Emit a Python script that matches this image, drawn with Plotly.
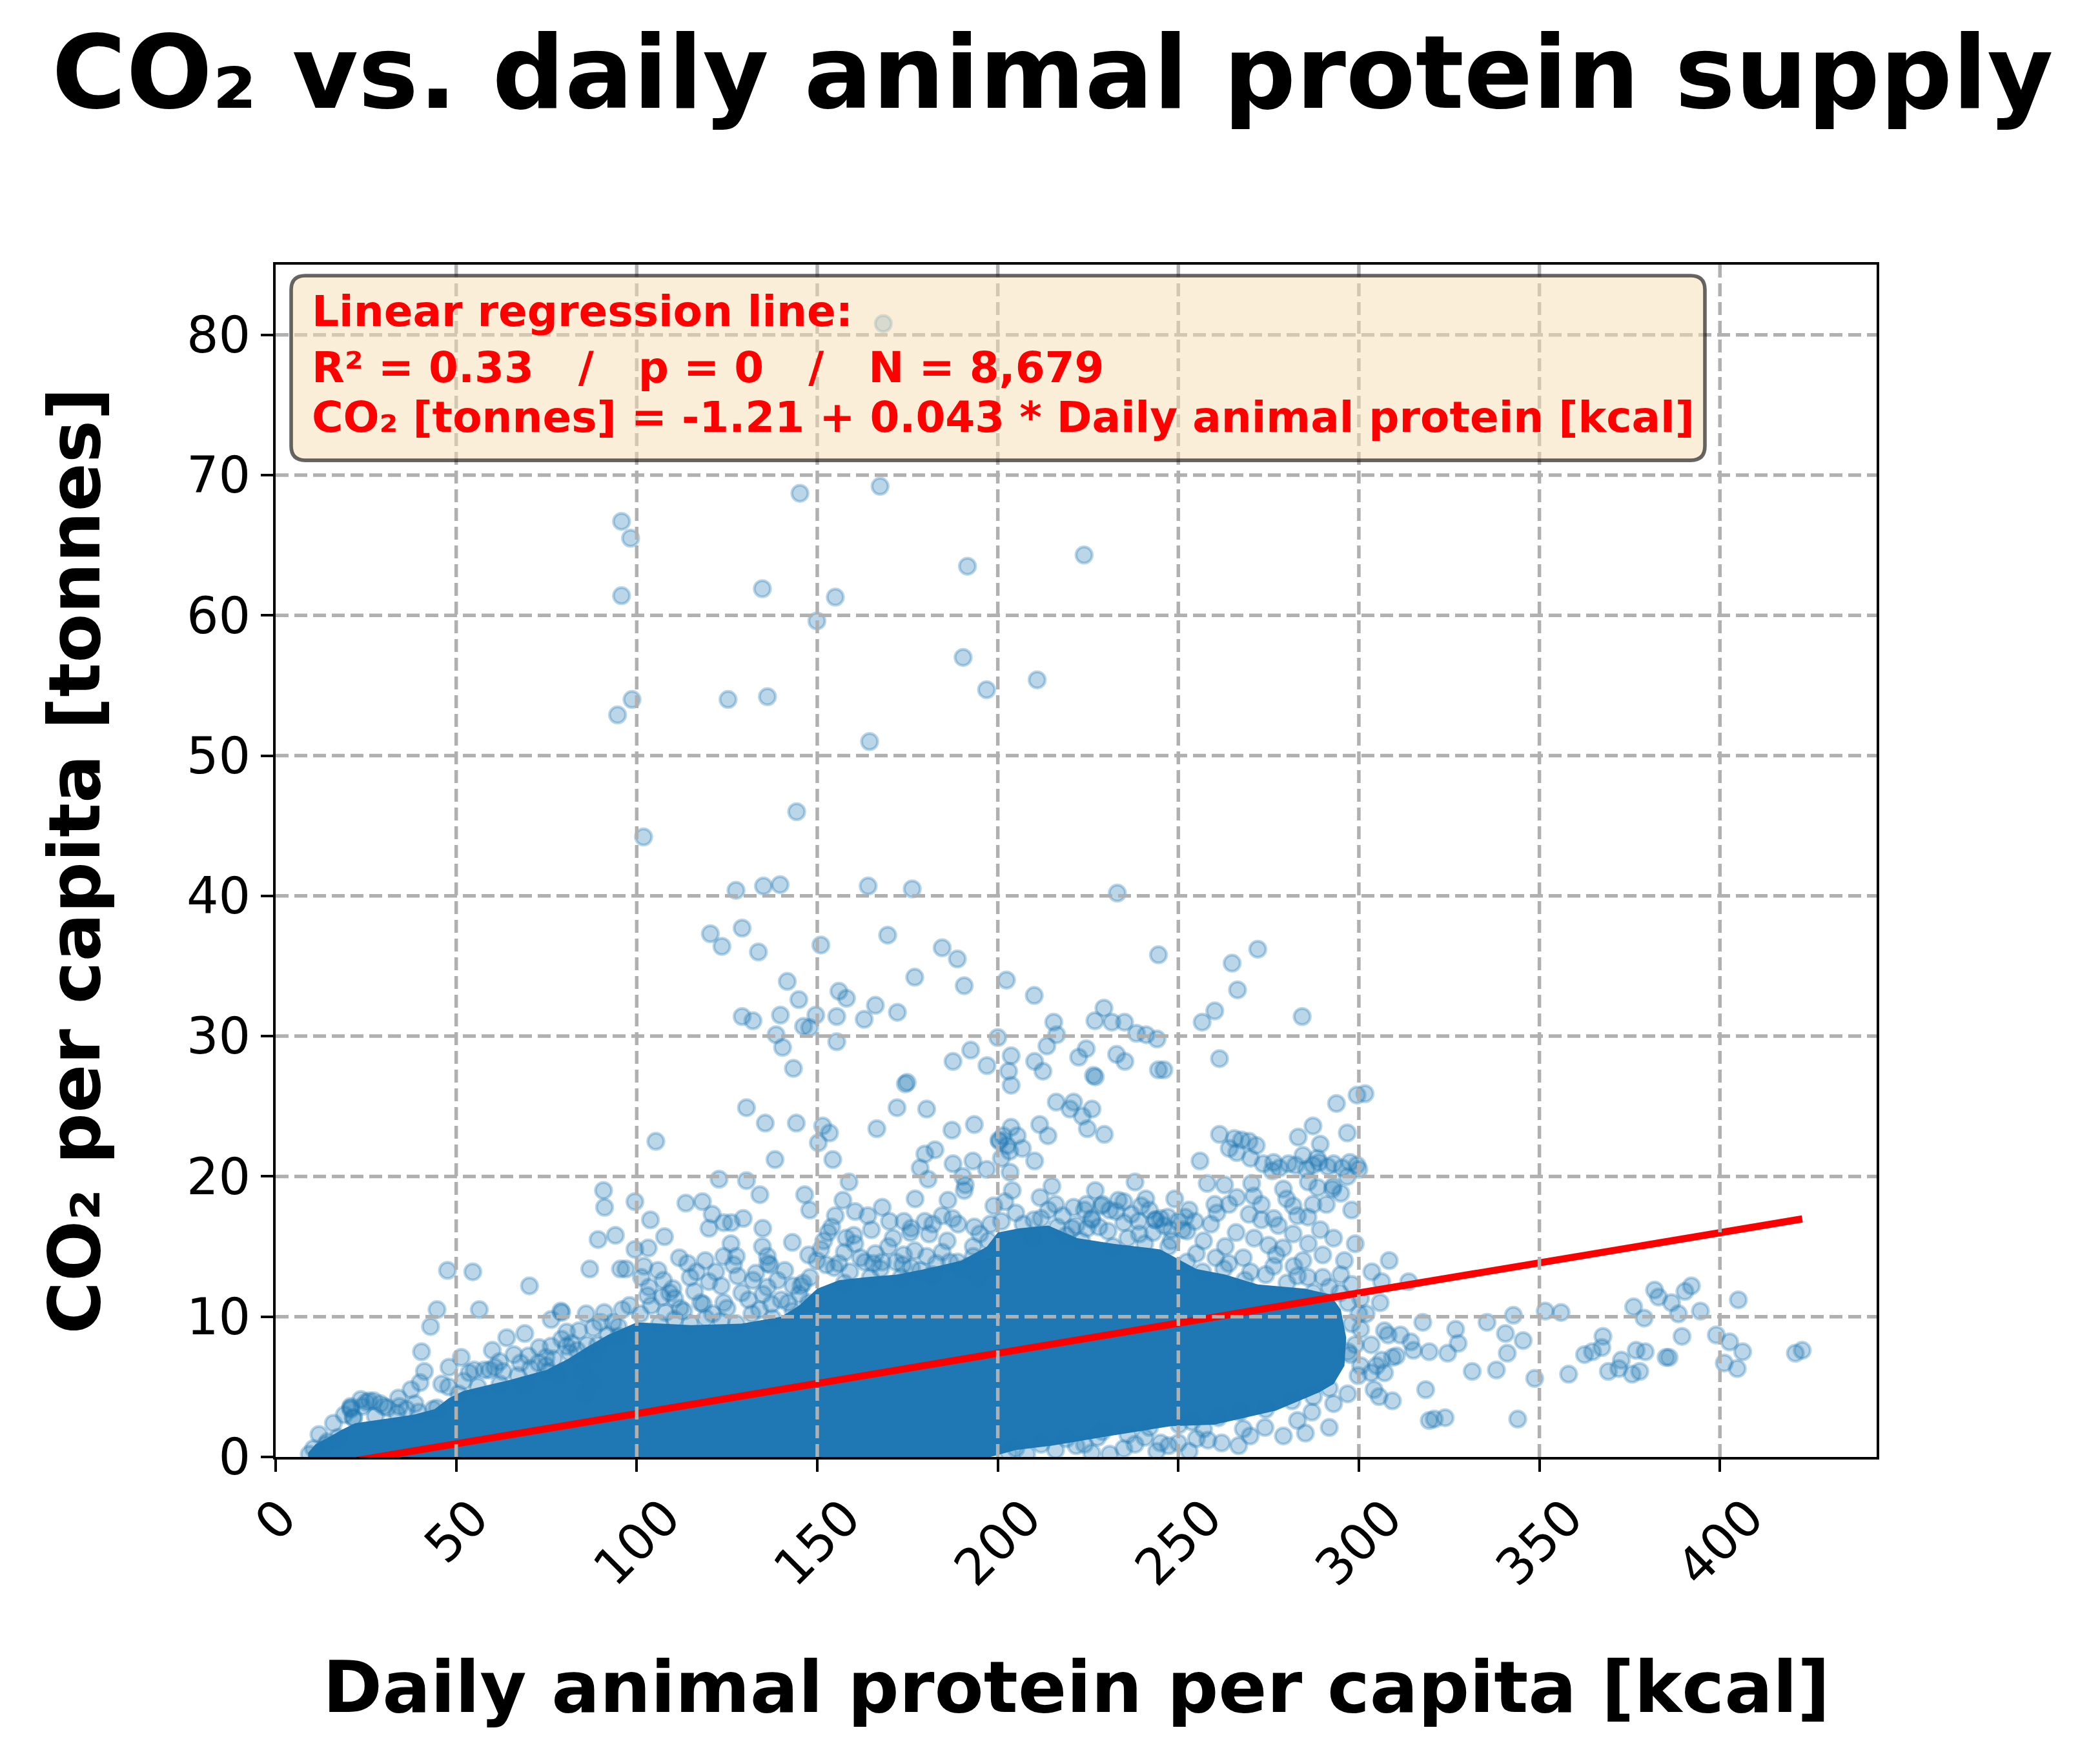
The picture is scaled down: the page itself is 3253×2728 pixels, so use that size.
import plotly.graph_objects as go

# Points, grouped by region: (kcal, tonnes)
TOP_PTS = [
    (168.3, 80.8), (145.2, 68.7), (167.4, 69.2), (95.8, 66.7), (98.3, 65.5), (223.9, 64.3),
    (191.6, 63.5), (134.8, 61.9), (95.8, 61.4), (155.0, 61.3), (149.9, 59.6), (190.4, 57.0),
    (210.9, 55.4), (196.9, 54.7), (136.2, 54.2), (125.3, 54.0), (98.7, 54.0), (94.7, 52.9),
    (164.5, 51.0), (144.3, 46.0), (101.9, 44.2), (127.5, 40.4), (135.1, 40.7), (139.7, 40.8),
    (164.1, 40.7), (176.3, 40.5), (233.1, 40.2),
]

MID_PTS = [
    (120.4, 37.3), (129.2, 37.7), (123.6, 36.4), (133.7, 36.0), (151.0, 36.5), (169.5, 37.2),
    (184.6, 36.3), (188.8, 35.5), (244.5, 35.8), (141.7, 33.9), (156.0, 33.2), (158.1, 32.7),
    (144.9, 32.6), (177.0, 34.2), (190.7, 33.6), (202.4, 34.0), (210.1, 32.9), (129.2, 31.4),
    (132.2, 31.1), (139.8, 31.5), (149.6, 31.5), (155.4, 31.4), (163.0, 31.2), (166.1, 32.2),
    (172.2, 31.7), (146.2, 30.7), (147.9, 30.6), (138.6, 30.1), (140.4, 29.2), (155.4, 29.6),
    (143.4, 27.7), (174.4, 26.6), (192.5, 29.0), (187.6, 28.2), (197.0, 27.9), (203.0, 27.5),
    (203.7, 28.6), (200.0, 29.9), (203.7, 26.5), (210.2, 28.2), (212.5, 27.5), (213.6, 29.3),
    (215.5, 31.0), (216.3, 30.1), (222.4, 28.5), (224.5, 29.1), (226.5, 27.2), (229.4, 32.0),
    (226.9, 31.1), (231.6, 31.0), (235.1, 31.0), (238.4, 30.2), (241.1, 30.1), (232.9, 28.7),
    (235.2, 28.2), (244.5, 27.6), (272.0, 36.2), (264.9, 35.2), (266.4, 33.3), (284.3, 31.4),
    (260.1, 31.8), (256.6, 31.0), (244.1, 29.8), (261.4, 28.4), (246.0, 27.6), (227.0, 27.1),
    (130.4, 24.9), (135.6, 23.8), (144.2, 23.8), (151.5, 23.6), (153.4, 23.1), (150.3, 22.4),
    (166.5, 23.4), (172.1, 24.9), (180.3, 24.8), (187.3, 23.3), (193.5, 23.7), (203.7, 23.5),
    (205.4, 22.9), (211.6, 23.7), (213.9, 22.9), (216.2, 25.3), (220.0, 24.8), (223.4, 24.3),
    (226.1, 24.8), (224.8, 23.4), (229.5, 23.0), (221.0, 25.3), (105.3, 22.5), (138.3, 21.2),
    (154.3, 21.2), (179.8, 21.6), (182.6, 21.9), (178.5, 20.6), (187.6, 20.9), (193.1, 21.1),
    (196.9, 20.5), (200.3, 22.6), (203.3, 21.8), (206.8, 22.0), (210.2, 21.1), (203.4, 20.3),
    (200.5, 22.5), (201.5, 22.9), (202.6, 22.2), (201.0, 21.3), (174.9, 26.7),
    (293.8, 25.2), (299.5, 25.8), (301.7, 25.9), (287.3, 23.6), (296.8, 23.1), (283.2, 22.8),
    (289.3, 22.3), (261.4, 23.0), (265.5, 22.7), (267.5, 22.6), (269.6, 22.5), (271.6, 22.2),
    (264.1, 22.0), (256.0, 21.1), (266.2, 21.7), (276.4, 21.0), (280.5, 20.9), (284.5, 21.5),
    (287.3, 20.8), (291.4, 20.7), (295.4, 20.6), (299.5, 20.8), (296.8, 20.0), (288.5, 21.3),
    (273.5, 20.9), (278.0, 20.6), (282.5, 20.8), (285.5, 20.5), (289.0, 21.0), (293.0, 20.9),
    (297.5, 21.0), (300.0, 20.5), (276.0, 20.4), (270.0, 21.3),
]

LOW_PTS = [
    (180.7, 19.8), (190.7, 19.0), (122.8, 19.8), (130.4, 19.7), (134.1, 18.7), (146.5, 18.7),
    (158.8, 19.6), (90.8, 19.0), (91.1, 17.8), (99.5, 18.2), (113.6, 18.1), (118.2, 18.2),
    (120.9, 17.3), (147.9, 17.6), (157.1, 18.3), (160.5, 17.5), (177.1, 18.4), (186.2, 18.3),
    (198.9, 17.9), (103.8, 16.9), (129.5, 17.0), (134.9, 16.3), (154.0, 16.4), (170.0, 16.8),
    (179.8, 16.8), (193.5, 16.4), (89.3, 15.5), (94.1, 15.8), (107.7, 15.7), (120.0, 16.3),
    (126.1, 15.2), (143.1, 15.3), (160.1, 15.8), (175.8, 16.0), (47.6, 13.3), (54.6, 13.2),
    (70.3, 12.2), (87.0, 13.4), (95.5, 13.4), (99.5, 14.8), (103.2, 14.9), (105.9, 13.3),
    (111.8, 14.2), (116.6, 13.2), (126.8, 13.7), (132.2, 12.6), (136.3, 13.8), (149.9, 14.0),
    (165.5, 13.8), (173.7, 13.7), (178.5, 13.3), (145.5, 12.2), (44.7, 10.5), (56.4, 10.5),
    (42.9, 9.3), (40.4, 7.5), (41.2, 6.1), (40.0, 5.3), (37.5, 4.8), (51.4, 7.1), (53.6, 6.0),
    (25.1, 3.9), (27.2, 4.0), (20.8, 3.5), (21.5, 2.8), (14.4, 1.1), (76.3, 9.8), (79.2, 10.3),
    (80.6, 8.9), (80.6, 7.9), (74.9, 6.5), (72.8, 6.7), (70.6, 6.3), (60.7, 6.4), (59.3, 6.2),
    (67.1, 5.8), (62.1, 5.2), (86.3, 8.0), (87.7, 7.3), (93.4, 9.6), (97.0, 13.4), (101.3, 12.8),
    (107.4, 12.6), (114.1, 13.8), (124.1, 16.7), (126.2, 16.7), (164.0, 17.2), (176.0, 16.3),
    (184.6, 17.2), (191.0, 19.4), (190.3, 20.0), (187.5, 17.0), (146.1, 12.4), (118.4, 10.9),
    (124.1, 11.0), (137.3, 10.9), (134.8, 15.0), (136.2, 14.3), (136.9, 13.7), (127.6, 14.3),
    (121.9, 13.2), (124.1, 14.3), (151.8, 15.4), (147.6, 14.4), (152.5, 13.7), (157.5, 14.6),
    (160.4, 15.2), (166.1, 14.5), (169.7, 15.0), (173.9, 14.4), (186.7, 13.9), (193.2, 14.3),
    (197.4, 13.5), (108.0, 10.3), (112.0, 10.6), (121.0, 10.2), (134.0, 10.5), (140.0, 11.2),
    (103.0, 11.5), (110.0, 12.0), (96.0, 10.5), (90.0, 9.6), (84.0, 9.0), (70.0, 7.2),
    (62.0, 6.8), (55.0, 6.2), (46.0, 5.2), (34.0, 4.2), (29.0, 3.8), (24.0, 3.6), (19.0, 3.0),
    (16.0, 2.4), (12.0, 1.6), (9.3, 0.2), (10.5, 0.6),
    (44.7, 3.5), (75.5, 6.1), (78.1, 5.8), (81.5, 7.4), (84.9, 6.1), (87.5, 5.4), (85.8, 4.5),
    (79.0, 10.4), (20.8, 3.4), (25.9, 4.0), (31.0, 3.5), (36.2, 3.4), (39.6, 3.2), (21.6, 2.8),
    (27.6, 2.9), (33.6, 3.1), (13.9, 0.9), (17.3, 1.4),
]

# overlapping markers just above the solid core
EDGE_PTS = [
    (20.8, 3.6), (23.6, 4.1), (30.0, 3.6), (34.3, 3.6), (38.6, 3.8), (43.6, 3.4), (47.9, 5.0),
    (50.7, 4.5), (57.8, 6.2), (67.8, 6.7), (74.9, 7.1), (76.3, 7.9), (79.2, 8.4), (83.5, 7.6),
    (89.2, 8.0), (92.0, 8.7), (94.9, 9.3), (106.3, 9.5), (110.5, 9.8), (114.8, 9.5),
    (119.1, 9.9), (123.4, 9.7), (127.6, 9.5), (131.9, 10.2), (137.6, 9.9), (143.3, 10.4),
    (147.6, 11.0), (110.5, 11.3), (117.7, 11.0), (129.1, 11.7), (136.2, 12.1), (143.3, 12.2),
    (103.4, 12.1), (123.4, 12.2), (114.8, 12.8), (109.1, 11.7), (154.7, 13.5), (159.0, 13.2),
    (163.2, 13.9), (167.5, 13.4), (171.8, 13.9), (176.1, 13.5), (180.3, 14.3), (184.6, 14.6),
    (188.9, 13.9), (193.2, 15.0), (197.4, 15.4), (157.5, 12.4), (164.7, 12.8), (173.2, 12.8),
    (181.8, 13.0), (190.3, 13.4), (194.6, 12.8),
    (101.0, 10.2), (104.0, 10.8), (107.0, 11.4), (113.0, 10.4), (116.0, 11.8), (120.0, 12.5),
    (125.0, 10.6), (128.0, 12.9), (131.0, 11.2), (135.0, 11.6), (139.0, 12.6), (142.0, 11.0),
    (145.0, 11.6), (148.0, 12.8), (102.0, 13.6), (119.0, 14.0), (133.0, 13.1), (141.0, 13.3),
    (151.0, 14.8), (153.0, 16.0), (156.0, 13.8), (158.0, 15.6), (162.0, 14.2), (165.0, 16.2),
    (168.0, 13.9), (171.0, 15.6), (174.0, 16.8), (177.0, 14.7), (181.0, 15.9), (183.0, 13.8),
    (186.0, 15.4), (189.0, 16.6), (192.0, 13.6), (195.0, 15.9), (198.0, 16.6), (155.0, 17.2),
    (168.0, 17.8), (182.0, 16.6),
    (52.0, 5.4), (56.0, 5.0), (63.0, 6.1), (66.0, 7.3), (69.0, 5.1), (73.0, 7.8), (77.0, 7.0),
    (82.0, 8.1), (88.0, 9.2), (91.0, 10.3), (95.0, 8.6), (98.0, 10.8), (86.0, 10.2),
    (60.0, 7.6), (48.0, 6.4), (64.0, 8.5), (69.0, 8.8),
]

RIGHT_PTS = [
    (211.7, 18.5), (224.0, 17.6), (228.7, 17.9), (234.9, 18.2), (241.0, 18.4), (243.7, 16.9),
    (247.1, 17.1), (251.9, 17.1), (254.6, 16.8), (251.2, 16.2), (243.0, 16.0), (216.5, 16.4),
    (220.6, 16.3), (224.7, 16.3), (232.8, 17.5), (209.7, 15.6), (239.7, 17.9), (229.0, 18.0),
    (245.1, 17.0), (252.4, 16.1), (260.4, 14.2), (247.3, 15.0), (218.0, 17.2), (221.0, 17.8),
    (226.0, 17.0), (231.0, 17.6), (237.0, 17.3), (239.0, 16.8), (246.0, 16.5), (250.0, 16.8),
    (253.0, 17.6), (201.0, 16.8), (205.0, 17.4), (210.0, 16.9), (214.0, 17.6),
    (221.7, 16.5), (226.1, 16.9), (230.5, 16.1), (234.9, 16.7), (239.2, 15.9), (243.6, 16.9),
    (223.2, 15.4), (231.9, 15.0), (240.7, 15.2), (248.0, 15.4), (224.6, 18.0), (233.4, 18.3),
    (202.0, 18.2), (207.0, 16.6), (212.0, 17.0), (216.0, 18.0), (219.0, 15.8), (228.0, 16.4),
    (236.0, 15.6), (242.0, 17.6), (248.0, 16.2), (204.0, 19.0), (215.0, 19.3), (227.0, 19.0),
    (238.0, 19.6), (249.0, 18.4),
    (257.0, 15.4), (259.0, 16.6), (263.0, 15.0), (266.0, 16.0), (268.0, 14.2), (271.0, 15.6),
    (273.0, 16.9), (279.0, 14.9), (282.0, 13.6), (286.0, 15.2), (290.0, 14.4), (293.0, 15.6),
    (296.0, 14.0), (299.0, 15.2), (258.0, 19.5), (264.0, 18.0), (273.0, 18.0), (280.0, 18.4),
    (286.0, 19.6), (291.0, 18.0), (295.0, 18.8), (298.0, 17.6),
    (252.4, 13.9), (256.7, 13.2), (262.6, 13.4), (268.4, 12.6), (274.2, 13.0), (280.1, 12.4),
    (285.9, 12.8), (291.8, 12.1), (287.4, 11.7), (294.7, 11.7), (300.5, 11.3), (302.0, 10.2),
    (300.5, 9.1), (303.4, 8.0), (297.6, 7.3), (300.5, 6.5),
    (288.6, 19.2), (292.7, 19.1), (262.8, 19.4), (270.3, 19.5), (279.1, 19.1), (266.2, 18.5),
    (270.9, 18.6), (260.1, 18.0), (260.7, 17.4), (269.6, 17.3), (276.4, 17.0), (281.8, 17.9),
    (287.3, 18.0), (285.9, 17.1), (289.3, 16.2), (281.8, 15.9), (277.7, 16.5), (275.0, 15.1),
    (277.1, 14.4), (284.5, 14.0), (276.4, 13.6), (283.0, 17.2), (292.9, 19.3),
    (308.4, 14.0), (303.6, 13.2), (306.3, 12.5), (313.8, 12.5), (392.1, 12.2), (381.9, 11.9),
    (305.9, 11.0), (351.6, 10.4), (356.0, 10.3), (342.8, 10.1), (335.5, 9.6), (317.7, 9.6),
    (326.8, 9.1), (340.6, 8.8), (345.5, 8.3), (367.6, 8.6), (376.1, 10.7), (379.0, 9.9),
    (383.0, 11.4), (386.6, 11.0), (390.3, 11.8), (394.6, 10.4), (388.5, 10.2), (405.1, 11.2),
    (399.0, 8.7), (402.7, 8.2), (406.3, 7.5), (401.2, 6.7), (404.8, 6.3), (389.5, 8.6),
    (420.9, 7.4), (422.8, 7.6), (385.1, 7.1), (385.9, 7.1), (379.3, 7.5), (376.8, 7.6),
    (372.7, 6.9), (369.1, 6.1), (372.0, 6.3), (375.7, 5.9), (377.8, 6.1), (362.5, 7.3),
    (364.7, 7.5), (367.3, 7.8), (358.1, 5.9), (348.7, 5.6), (341.1, 7.4), (338.1, 6.2),
    (331.4, 6.1), (327.5, 8.1), (324.6, 7.4), (319.5, 7.5), (315.1, 7.6), (314.4, 8.2),
    (311.5, 8.7), (308.1, 8.7), (307.1, 9.0), (309.3, 7.1), (306.3, 6.9), (304.9, 6.5),
    (303.4, 6.0), (307.1, 6.0), (310.4, 7.2), (304.2, 4.8), (305.6, 4.3), (309.3, 4.0),
    (318.5, 4.8), (320.9, 2.7), (323.9, 2.8), (319.5, 2.6), (344.0, 2.7), (299.8, 5.8),
    (296.9, 4.5), (291.8, 2.1), (285.2, 1.7), (279.1, 1.5), (269.9, 1.5), (266.7, 0.8),
    (258.2, 1.2), (247.3, 0.8), (250.2, 2.3), (205.0, 0.6), (212.0, 0.9), (226.0, 0.3),
    (238.0, 0.9), (244.0, 0.4), (255.0, 1.3), (262.0, 1.0), (268.0, 2.0), (274.0, 2.1),
    (283.0, 2.6), (287.0, 3.2), (293.0, 3.8), (297.0, 7.5), (298.0, 9.5), (297.0, 11.0),
    (299.0, 8.0), (300.0, 10.2), (298.0, 12.3), (295.0, 13.0), (290.0, 12.8), (283.0, 12.9),
    (270.0, 13.2), (264.0, 13.8), (255.0, 14.5),
    (221.7, 0.8), (227.6, 1.4), (234.9, 0.6), (240.7, 1.4), (245.1, 1.0), (253.8, 2.5),
    (261.1, 2.8), (267.0, 3.2), (274.2, 3.4), (281.5, 4.0), (287.4, 4.3), (291.8, 4.9),
    (203.0, 0.3), (208.0, 0.2), (216.0, 0.5), (219.0, 1.3), (224.0, 0.9), (229.0, 1.8),
    (231.0, 0.2), (236.0, 1.6), (242.0, 2.1), (250.0, 1.0), (253.0, 0.4), (257.0, 2.0),
]

# Outline of the saturated core, where thousands of markers overlap into solid blue
CORE_X = [9.0, 9.0, 11, 14, 18, 22, 30, 38, 44, 48, 52, 57, 65, 75, 81, 86, 92, 100, 115,
          129, 140, 145, 150, 156, 163, 172, 180, 190, 197, 200, 206, 214, 222, 232, 245, 255,
          263, 272, 285, 292, 295, 296.5, 296, 293, 289, 277, 260, 248, 231, 215, 205, 198]
CORE_Y = [0.0, 0.3, 0.9, 1.3, 1.9, 2.4, 2.7, 3.0, 3.4, 4.2, 4.7, 5.0, 5.5, 6.2, 7.0, 7.8,
          8.7, 9.6, 9.4, 9.5, 10.0, 10.8, 12.0, 12.6, 12.8, 13.0, 13.4, 14.0, 15.0, 16.0, 16.3,
          16.5, 15.6, 15.2, 14.8, 13.4, 13.0, 12.3, 12.0, 11.6, 10.5, 8.5, 6.5, 5.2, 4.6, 3.3,
          2.3, 2.2, 1.5, 0.8, 0.5, 0.0]

# Regression fit as printed in the chart
INTERCEPT = -1.21
SLOPE = 0.043

X_TICKS = [0, 50, 100, 150, 200, 250, 300, 350, 400]
Y_TICKS = [0, 10, 20, 30, 40, 50, 60, 70, 80]

BLUE = "#1f77b4"
FONT = "DejaVu Sans"
DOM_W, DOM_H = 2480, 1847  # plot area in px

pts = TOP_PTS + MID_PTS + LOW_PTS + EDGE_PTS + RIGHT_PTS
xs = [p[0] for p in pts]
ys = [p[1] for p in pts]
line_x = [min(xs + CORE_X), max(xs)]
line_y = [INTERCEPT + SLOPE * x for x in line_x]

fig = go.Figure()
fig.add_trace(go.Scatter(
    x=CORE_X, y=CORE_Y, mode="lines", fill="toself", fillcolor=BLUE,
    line=dict(width=0, color=BLUE), hoverinfo="skip", showlegend=False,
))
fig.add_trace(go.Scatter(
    x=xs, y=ys, mode="markers", showlegend=False,
    marker=dict(size=25, color="rgba(31,119,180,0.3)",
                line=dict(color="rgba(31,119,180,0.3)", width=4.5)),
))
fig.add_trace(go.Scatter(
    x=line_x, y=line_y, mode="lines", showlegend=False,
    line=dict(color="red", width=11),
))

# dashed grid on top of the points, as in the original
grid = dict(color="#b0b0b0", width=5.5, dash="20px,9px")
for v in X_TICKS[1:]:
    fig.add_shape(type="line", xref="x", yref="paper", x0=v, x1=v, y0=0, y1=1,
                  line=grid, layer="above")
for v in Y_TICKS[1:]:
    fig.add_shape(type="line", xref="paper", yref="y", x0=0, x1=1, y0=v, y1=v,
                  line=grid, layer="above")

# rounded text box (paper coords)
x0, x1, y0, y1 = 24 / DOM_W, 2214 / DOM_W, 0.8359, 0.9908
rx, ry = 22 / DOM_W, 22 / DOM_H
box = (f"M {x0 + rx},{y1} L {x1 - rx},{y1} Q {x1},{y1} {x1},{y1 - ry} "
       f"L {x1},{y0 + ry} Q {x1},{y0} {x1 - rx},{y0} L {x0 + rx},{y0} "
       f"Q {x0},{y0} {x0},{y0 + ry} L {x0},{y1 - ry} Q {x0},{y1} {x0 + rx},{y1} Z")
fig.add_shape(type="path", path=box, xref="paper", yref="paper",
              fillcolor="rgba(245,222,179,0.5)",
              line=dict(color="rgba(0,0,0,0.6)", width=5.6), layer="above")

sp = "\u00a0"
box_lines = [
    "Linear regression line:",
    f"R² = 0.33{sp * 3}/{sp * 3}p = 0{sp * 3}/{sp * 3}N = 8,679",
    "CO₂ [tonnes] = -1.21 + 0.043 * Daily animal protein [kcal]",
]
for txt, yy in zip(box_lines, [0.9606, 0.9139, 0.8722]):
    fig.add_annotation(text=f"<b>{txt}</b>", xref="paper", yref="paper", x=54 / DOM_W, y=yy,
                       xanchor="left", yanchor="middle", showarrow=False,
                       font=dict(family=FONT, size=66, color="red"))

# x tick labels, rotated 45 deg and centred under each tick
for v in X_TICKS:
    fig.add_annotation(text=str(v), xref="x", yref="paper", x=v, y=-0.0243,
                       xanchor="center", yanchor="top", textangle=-45, showarrow=False,
                       font=dict(family=FONT, size=78, color="black"))

fig.add_annotation(text="<b>Daily animal protein per capita [kcal]</b>", xref="paper",
                   yref="paper", x=0.5, y=-0.1928, xanchor="center", yanchor="middle",
                   showarrow=False, font=dict(family=FONT, size=111, color="black"))
fig.add_annotation(text="<b>CO₂ per capita [tonnes]</b>", xref="paper", yref="paper",
                   x=-312 / DOM_W, y=0.5, xanchor="center", yanchor="middle", textangle=-90,
                   showarrow=False, font=dict(family=FONT, size=111, color="black"))

axis_common = dict(
    ticks="outside", ticklen=19, tickwidth=4.4, tickcolor="black",
    showline=True, linecolor="black", linewidth=4.4, mirror=True,
    showgrid=False, zeroline=False,
)
fig.update_xaxes(range=[0, 443.4], tickvals=X_TICKS, showticklabels=False, **axis_common)
fig.update_yaxes(range=[0, 85.0], tickvals=Y_TICKS,
                 tickfont=dict(family=FONT, size=78, color="black"), **axis_common)

# the html page puts the figure 8px in from the corner, so the size is trimmed by that
fig.update_layout(
    width=3245, height=2720,
    margin=dict(l=419, r=346, t=402, b=471),
    paper_bgcolor="white", plot_bgcolor="white",
    title=dict(text="<b>CO₂ vs. daily animal protein supply</b>", x=0.5, xref="container",
               xanchor="center", y=0.9618, yref="container", yanchor="middle",
               font=dict(family=FONT, size=157, color="black")),
    font=dict(family=FONT),
)

fig.write_html("out.html")
